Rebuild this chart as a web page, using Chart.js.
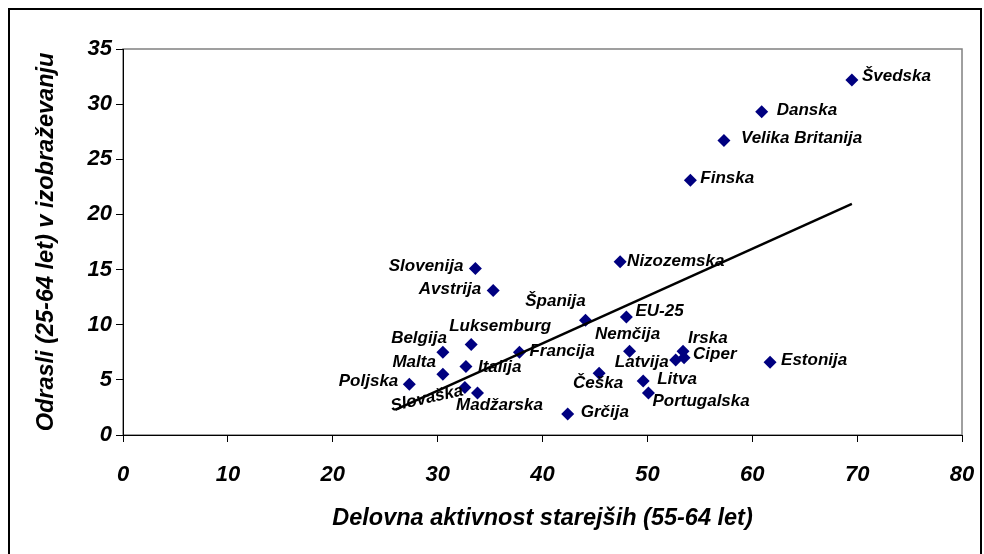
<!DOCTYPE html>
<html>
<head>
<meta charset="utf-8">
<script src="https://cdn.jsdelivr.net/npm/chart.js@4/dist/chart.umd.min.js"></script>
<style>
  body { margin: 0; background: #fff; }
  #plot { display: block; }
</style>
</head>
<body>
<canvas id="plot" width="984" height="554"></canvas>
<script>
// data
var countries = ["Švedska", "Danska", "Velika Britanija", "Finska", "Nizozemska", "Slovenija", "Avstrija",
  "Španija", "EU-25", "Luksemburg", "Belgija", "Francija", "Nemčija", "Irska", "Ciper", "Latvija",
  "Estonija", "Italija", "Malta", "Češka", "Poljska", "Litva", "Slovaška", "Madžarska", "Portugalska", "Grčija"];
var activity = [69.5, 60.9, 57.3, 54.1, 47.4, 33.6, 35.3, 44.1, 48.0, 33.2, 30.5, 37.8, 48.3, 53.4, 53.5, 52.7,
  61.7, 32.7, 30.5, 45.4, 27.3, 49.6, 32.6, 33.8, 50.1, 42.4];
var education = [32.2, 29.3, 26.7, 23.1, 15.7, 15.1, 13.1, 10.4, 10.7, 8.2, 7.5, 7.5, 7.6, 7.6, 7.0, 6.8,
  6.6, 6.2, 5.5, 5.6, 4.6, 4.9, 4.3, 3.8, 3.8, 1.9];
var trendX = [26.0, 69.5];
var trendY = [2.3, 20.95];

// where each label sits next to its marker: align, dx, dy, angle
var labelPlace = {
  "Švedska": ["left", 10, -4],
  "Danska": ["left", 15, -2],
  "Velika Britanija": ["left", 17, -2],
  "Finska": ["left", 10, -2],
  "Nizozemska": ["left", 7, -1],
  "Slovenija": ["right", -12, -2],
  "Avstrija": ["right", -12, -1],
  "Španija": ["center", -30, -19],
  "EU-25": ["left", 9, -6],
  "Luksemburg": ["center", 29, -18],
  "Belgija": ["right", 4, -14],
  "Francija": ["left", 10, -1],
  "Nemčija": ["center", -2, -17],
  "Irska": ["left", 5, -13],
  "Ciper": ["left", 9, -3],
  "Latvija": ["right", -7, 2],
  "Estonija": ["left", 11, -2],
  "Italija": ["left", 12, 1],
  "Malta": ["right", -7, -12],
  "Češka": ["center", -1, 10],
  "Poljska": ["right", -11, -3],
  "Litva": ["left", 14, -2],
  "Slovaška": ["center", -38, 11, -0.22],
  "Madžarska": ["center", 22, 12],
  "Portugalska": ["left", 4, 8],
  "Grčija": ["left", 13, -2]
};

var FONT = "'Liberation Sans', Arial, sans-serif";

var points = [];
for (var i = 0; i < countries.length; i++) {
  points.push({ x: activity[i], y: education[i] });
}
var trend = [];
for (var j = 0; j < trendX.length; j++) {
  trend.push({ x: trendX[j], y: trendY[j] });
}

var framePlugin = {
  id: "frame",
  beforeDraw: function (chart) {
    var ctx = chart.ctx;
    var a = chart.chartArea;
    ctx.save();
    ctx.strokeStyle = "#000";
    ctx.lineWidth = 2;
    ctx.strokeRect(9, 9, 972, 560);
    ctx.strokeStyle = "#808080";
    ctx.lineWidth = 1.5;
    ctx.strokeRect(a.left, a.top, a.right - a.left, a.bottom - a.top);
    ctx.restore();
  }
};

var labelPlugin = {
  id: "countryLabels",
  afterDatasetsDraw: function (chart) {
    var ctx = chart.ctx;
    var meta = chart.getDatasetMeta(0);
    ctx.save();
    ctx.font = "italic bold 17px " + FONT;
    ctx.fillStyle = "#000";
    ctx.textBaseline = "middle";
    meta.data.forEach(function (pt, k) {
      var name = countries[k];
      var p = labelPlace[name] || ["left", 10, 0];
      ctx.save();
      ctx.translate(pt.x + p[1], pt.y + p[2]);
      if (p[3]) ctx.rotate(p[3]);
      ctx.textAlign = p[0];
      ctx.fillText(name, 0, 0);
      ctx.restore();
    });
    ctx.restore();
  }
};

new Chart(document.getElementById("plot"), {
  type: "scatter",
  data: {
    datasets: [
      {
        data: points,
        pointStyle: "rectRot",
        pointRadius: 6.5,
        pointHoverRadius: 6.5,
        backgroundColor: "#000080",
        borderColor: "#000080",
        borderWidth: 0,
        order: 1
      },
      {
        type: "line",
        data: trend,
        borderColor: "#000",
        borderWidth: 2.5,
        pointRadius: 0,
        fill: false,
        order: 0
      }
    ]
  },
  options: {
    responsive: false,
    animation: false,
    layout: { padding: { left: 0, top: 49, right: 22, bottom: 0 } },
    plugins: {
      legend: { display: false },
      tooltip: { enabled: false }
    },
    scales: {
      x: {
        type: "linear",
        min: 0,
        max: 80,
        ticks: { stepSize: 10, color: "#000", padding: 20, font: { family: FONT, size: 22, style: "italic", weight: "bold" } },
        grid: { drawOnChartArea: false, tickLength: 7, color: "#000" },
        border: { color: "#000", width: 1 },
        title: {
          display: true,
          text: "Delovna aktivnost starejših (55-64 let)",
          color: "#000",
          padding: { top: 0, bottom: 21 },
          font: { family: FONT, size: 23.5, style: "italic", weight: "bold" }
        },
        afterFit: function (scale) {
          scale.height = 119;
          scale.paddingLeft = 0;
          scale.paddingRight = 0;
        }
      },
      y: {
        type: "linear",
        min: 0,
        max: 35,
        ticks: { stepSize: 5, color: "#000", padding: 4, font: { family: FONT, size: 22, style: "italic", weight: "bold" } },
        grid: { drawOnChartArea: false, tickLength: 7, color: "#000" },
        border: { color: "#000", width: 1 },
        title: {
          display: true,
          text: "Odrasli (25-64 let) v izobraževanju",
          color: "#000",
          padding: { top: 32, bottom: 0 },
          font: { family: FONT, size: 23.5, style: "italic", weight: "bold" }
        },
        afterFit: function (scale) {
          scale.width = 123;
          scale.paddingTop = 0;
          scale.paddingBottom = 0;
        }
      }
    }
  },
  plugins: [framePlugin, labelPlugin]
});
</script>
</body>
</html>
